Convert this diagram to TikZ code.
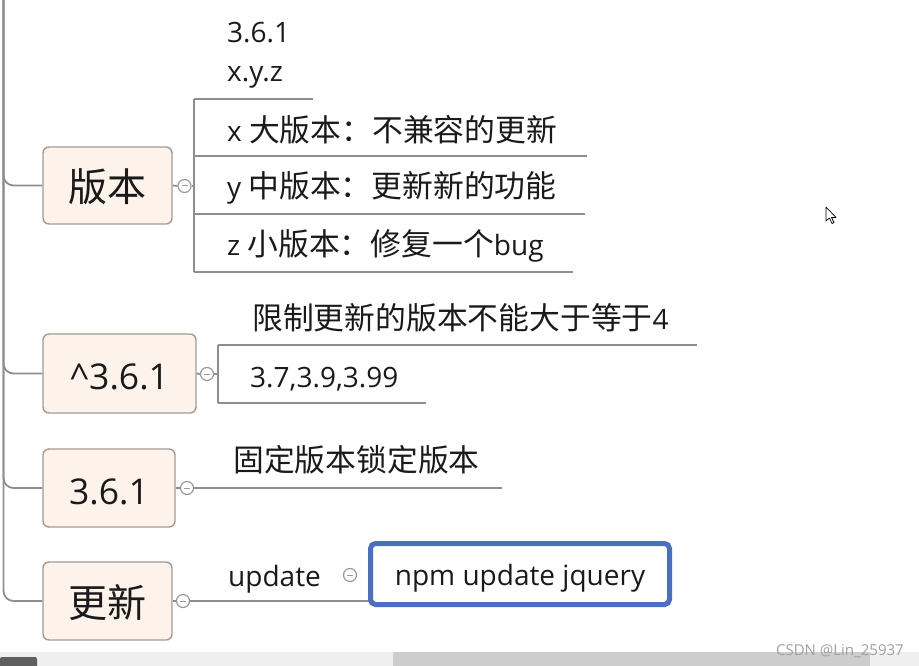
\documentclass[tikz,border=0pt]{standalone}
\usepackage{fontspec}
\setmainfont{Open Sans}
\newfontfamily\cjk[Scale=1.1]{Noto Sans CJK SC}
\definecolor{linegray}{HTML}{8E8E8E}
\definecolor{boxborder}{HTML}{A39B94}
\definecolor{boxfill}{HTML}{FDF3EB}
\definecolor{txt}{HTML}{1A1A1A}
\definecolor{selblue}{HTML}{4A6FC1}
\definecolor{togglegray}{HTML}{9A9A9A}
\definecolor{barlight}{HTML}{EFEFEF}
\definecolor{bardark}{HTML}{CDCDCD}
\definecolor{bartab}{HTML}{5F5F5F}
\definecolor{wmgray}{HTML}{A0A0A0}
\begin{document}
\begin{tikzpicture}[x=1pt,y=-1pt,
  conn/.style={draw=linegray, line width=1.8pt},
  mainbox/.style={draw=boxborder, fill=boxfill, line width=1.4pt, rounded corners=6pt,
    inner sep=0pt, text height=33pt, text depth=1pt, font=\fontsize{35.5}{42}\selectfont, text=txt},
  toggle/.style={circle, draw=togglegray, fill=white, line width=1.2pt, minimum size=13pt, inner sep=0pt,
    path picture={\draw[togglegray, line width=1pt] ([xshift=-3pt]path picture bounding box.center) -- ([xshift=3pt]path picture bounding box.center);}},
  childtxt/.style={anchor=base west, inner sep=0pt, font=\fontsize{28}{34}\selectfont, text=txt},
  bluebox/.style={draw=selblue, fill=white, line width=5pt, rounded corners=5pt, inner sep=0pt,
    text height=27pt, text depth=5pt, font=\fontsize{28}{34}\selectfont, text=txt}
]
\useasboundingbox (0,0) rectangle (919,666);
\fill[white] (0,0) rectangle (919,666);

% main topics
\node[mainbox, minimum width=129pt, minimum height=77pt] (b1) at (107.5,185.5) {\cjk 版本};
\node[mainbox, minimum width=153pt, minimum height=79pt] (b2) at (119.5,373.5) {\textasciicircum 3.6.1};
\node[mainbox, minimum width=132pt, minimum height=78pt] (b3) at (109,488) {3.6.1};
\node[mainbox, minimum width=129pt, minimum height=78pt] (b4) at (107.5,601) {\cjk 更新};

% spine
\coordinate (top) at (3.5,-5);
\draw[conn, rounded corners=10pt] (top) |- (b1.west);
\draw[conn, rounded corners=10pt] (top) |- (b2.west);
\draw[conn, rounded corners=10pt] (top) |- (b3.west);
\draw[conn, rounded corners=10pt] (top) |- (b4.west);

% toggles
\node[toggle] (t1) at (184.5,186) {};
\node[toggle] (t2) at (207,374) {};
\node[toggle] (t3) at (187,488) {};
\node[toggle] (t4) at (183,601) {};
\node[toggle] (t5) at (350,575) {};
\draw[conn] (b1.east) -- (t1.west);
\draw[conn] (b2.east) -- (t2.west);
\draw[conn] (b3.east) -- (t3.west);
\draw[conn] (b4.east) -- (t4.west);

% branch 1
\coordinate (k1t) at (194,99);
\coordinate (k1m) at (194,186);
\coordinate (k1b) at (194,272);
\coordinate (k1a) at (194,156);
\coordinate (k1c) at (194,214);
\coordinate (u0) at (313,99);
\coordinate (u1) at (587,156);
\coordinate (u2) at (585,214);
\coordinate (u3) at (573,272);
\draw[conn] (t1.east) -- (k1m);
\draw[conn] (k1t) -- (k1b);
\draw[conn] (k1t) -- (u0);
\draw[conn] (k1a) -- (u1);
\draw[conn] (k1c) -- (u2);
\draw[conn] (k1b) -- (u3);
\node[childtxt] (c0a) at (227,43) {3.6.1};
\node[childtxt] (c0b) at (227,82) {x.y.z};
\node[childtxt] (c1) at (227,142) {x {\cjk 大版本：不兼容的更新}};
\node[childtxt] (c2) at (227,198) {y {\cjk 中版本：更新新的功能}};
\node[childtxt] (c3) at (227,255) {z {\cjk 小版本：修复一个}bug};

% branch 2
\coordinate (k2t) at (218,345);
\coordinate (k2m) at (218,374);
\coordinate (k2b) at (218,403);
\coordinate (v1) at (697,345);
\coordinate (v2) at (426,403);
\draw[conn] (t2.east) -- (k2m);
\draw[conn] (k2t) -- (k2b);
\draw[conn] (k2t) -- (v1);
\draw[conn] (k2b) -- (v2);
\node[childtxt] (d1) at (252,329) {{\cjk 限制更新的版本不能大于等于}4};
\node[childtxt] (d2) at (250,387) {3.7,3.9,3.99};

% branch 3
\coordinate (w1) at (502,488);
\draw[conn] (t3.east) -- (w1);
\node[childtxt] (e1) at (233,471) {\cjk 固定版本锁定版本};

% branch 4
\coordinate (g1w) at (371,601);
\draw[conn] (t4.east) -- (g1w);
\node[childtxt] (f1) at (228,586) {update};
\node[bluebox, minimum width=299pt, minimum height=61pt] (g1) at (520,574) {npm update jquery};

% scrollbar
\fill[barlight] (0,652) rectangle (919,666);
\fill[bardark] (393,652) rectangle (870,666);
\fill[bartab, rounded corners=2pt] (0,657) rectangle (37,668);

% watermark
\node[anchor=base east, inner sep=0pt, font=\fontsize{15}{17}\selectfont, text=wmgray] (wm) at (904,655.5) {CSDN @Lin\_25937};

% cursor
\draw[black, line width=0.7pt, fill=white, line join=round] (826,207) -- (826,221) -- (829.5,218) -- (832,223.5) -- (834,222.5) -- (831.5,217.5) -- (836,217.5) -- cycle;
\end{tikzpicture}
\end{document}
